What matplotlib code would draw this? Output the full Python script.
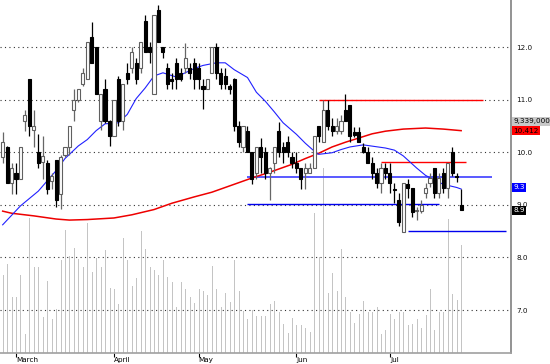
import matplotlib
matplotlib.use("Agg")
import matplotlib.pyplot as plt
from matplotlib.transforms import blended_transform_factory

# daily bars (index 0 = first bar at the left edge)
opens = [9.9, 10.1, 9.42, 9.6, 9.5, 10.6, 11.4, 10.42, 10.0, 9.82,
         9.8, 9.45, 9.85, 9.2, 9.95, 10.1, 10.8, 11.0, 11.3, 11.4,
         12.2, 12.0, 10.6, 11.2, 10.6, 10.3, 11.4, 10.6, 11.5, 11.6,
         11.7, 11.6, 12.5, 12.0, 11.1, 12.7, 12.0, 11.6, 11.4, 11.7,
         11.5, 11.6, 11.6, 11.7, 11.6, 11.25, 11.2, 11.5, 12.0, 11.5,
         11.45, 11.25, 11.4, 10.5, 10.1, 10.4, 10.0, 9.6, 10.1, 10.0,
         9.6, 9.8, 10.4, 10.1, 10.2, 9.9, 9.8, 9.7, 9.6, 9.6,
         9.7, 10.5, 10.2, 10.8, 10.5, 10.4, 10.4, 10.8, 10.9, 10.38,
         10.38, 10.1, 10.0, 9.8, 9.6, 9.42, 9.7, 9.6, 9.3, 9.1,
         8.48, 9.4, 9.32, 8.88, 8.88, 9.22, 9.41, 9.7, 9.22, 9.6,
         9.32, 10.0, 9.55, 9.0]
highs = [10.38, 10.12, 9.8, 9.8, 10.1, 10.8, 11.4, 10.8, 10.35, 10.3,
         9.85, 9.6, 9.85, 9.95, 10.1, 10.5, 11.2, 11.2, 11.6, 12.1,
         12.48, 12.0, 11.1, 11.4, 10.62, 11.0, 11.45, 11.3, 11.7, 12.0,
         11.8, 12.1, 12.6, 12.1, 12.6, 12.8, 12.0, 11.7, 11.5, 11.8,
         11.6, 12.08, 11.7, 11.8, 11.7, 11.4, 11.4, 12.0, 12.08, 11.6,
         11.6, 11.3, 11.42, 10.6, 10.5, 10.5, 10.0, 10.1, 10.27, 10.1,
         9.72, 10.1, 10.57, 10.2, 10.3, 10.0, 10.0, 9.7, 9.8, 9.8,
         10.3, 10.5, 11.0, 11.0, 10.65, 10.65, 10.7, 11.1, 10.9, 10.48,
         10.48, 10.17, 10.1, 9.9, 9.7, 9.8, 9.8, 9.8, 9.41, 9.22,
         9.41, 9.5, 9.32, 8.96, 9.09, 9.41, 9.6, 9.7, 9.6, 9.7,
         9.8, 10.1, 9.6, 9.3]
lows = [9.8, 9.42, 9.2, 9.2, 9.5, 10.4, 10.3, 10.1, 9.7, 9.5,
        9.2, 9.3, 8.95, 8.92, 9.9, 9.95, 10.6, 10.95, 11.25, 11.4,
        11.7, 11.1, 10.42, 10.55, 10.12, 10.3, 10.5, 10.42, 11.3, 11.5,
        11.3, 11.5, 11.9, 11.7, 11.1, 12.1, 11.8, 11.2, 11.2, 11.2,
        11.35, 11.5, 11.4, 11.2, 11.2, 10.82, 11.2, 11.5, 11.4, 11.2,
        11.2, 11.1, 10.4, 10.1, 10.0, 10.0, 9.4, 9.5, 9.6, 9.5,
        9.1, 9.6, 9.9, 9.8, 9.9, 9.7, 9.6, 9.3, 9.3, 9.6,
        9.7, 10.2, 10.2, 10.42, 10.3, 10.35, 10.35, 10.6, 10.2, 10.29,
        10.19, 9.98, 9.8, 9.5, 9.32, 9.22, 9.5, 9.22, 9.03, 8.6,
        8.48, 9.13, 8.77, 8.71, 8.84, 9.13, 9.34, 9.13, 9.13, 9.22,
        9.13, 9.55, 9.43, 8.9]
closes = [10.2, 9.42, 9.7, 9.5, 10.1, 10.7, 10.5, 10.5, 9.8, 9.92,
          9.3, 9.55, 9.1, 9.9, 10.1, 10.5, 11.0, 11.2, 11.5, 12.1,
          11.7, 11.1, 11.1, 10.6, 10.3, 11.0, 10.6, 11.3, 11.4, 11.9,
          11.4, 12.1, 11.9, 11.9, 12.6, 12.1, 11.9, 11.3, 11.35, 11.4,
          11.4, 11.8, 11.5, 11.4, 11.4, 11.2, 11.4, 12.0, 11.5, 11.3,
          11.3, 11.2, 10.5, 10.2, 10.5, 10.0, 9.5, 10.1, 9.9, 9.6,
          9.7, 10.1, 10.0, 10.0, 10.0, 9.8, 9.7, 9.5, 9.7, 9.7,
          10.3, 10.3, 10.8, 10.5, 10.4, 10.5, 10.6, 10.6, 10.3, 10.33,
          10.2, 10.0, 9.8, 9.6, 9.42, 9.7, 9.6, 9.42, 9.28, 8.67,
          9.41, 9.32, 8.86, 8.9, 9.0, 9.32, 9.51, 9.22, 9.51, 9.32,
          9.8, 9.6, 9.52, 8.9]
# volume in millions of shares
volume = [6.7, 7.7, 4.8, 4.8, 6.7, 1.6, 11.7, 7.4, 7.4, 3.1,
          6.2, 2.9, 3.8, 8.0, 10.6, 8.4, 9.1, 8.1, 7.4, 11.2,
          7.0, 8.2, 7.4, 8.9, 5.6, 5.5, 4.2, 9.9, 8.0, 5.8,
          6.5, 10.5, 9.0, 7.4, 7.2, 6.7, 8.0, 6.6, 6.1, 4.0,
          6.1, 5.5, 4.8, 4.3, 5.5, 5.4, 5.0, 7.5, 5.5, 4.0,
          5.2, 4.4, 8.0, 5.4, 3.6, 2.9, 3.7, 3.2, 3.2, 3.2,
          4.2, 4.5, 3.5, 2.5, 1.7, 3.0, 2.4, 2.4, 2.2, 1.8,
          12.1, 8.3, 16.0, 5.2, 6.9, 5.4, 9.0, 4.8, 3.5, 2.6,
          3.4, 4.5, 3.5, 3.5, 4.0, 1.6, 2.0, 3.4, 2.9, 3.5,
          3.5, 2.4, 2.5, 2.9, 2.2, 3.3, 5.5, 2.0, 3.5, 3.5,
          11.6, 5.1, 4.6, 9.3]

# moving averages, read at a few bars
blue_idx = [0, 4, 8, 12, 14, 17, 19, 21, 23, 26, 28, 30, 32, 34, 36, 39, 41,
            43, 45, 48, 50, 52, 55, 57, 59, 61, 63, 66, 68, 70, 71, 74, 76,
            78, 81, 86, 88, 90, 93, 95, 97, 99, 102, 103]
blue_val = [8.62, 8.98, 9.26, 9.65, 9.88, 10.12, 10.24, 10.41, 10.54, 10.56,
            10.72, 11.02, 11.22, 11.45, 11.51, 11.43, 11.51, 11.59, 11.65,
            11.70, 11.70, 11.57, 11.42, 11.14, 10.97, 10.77, 10.56, 10.34,
            10.17, 10.02, 9.96, 9.99, 10.05, 10.10, 10.14, 10.08, 10.04,
            9.93, 9.70, 9.56, 9.47, 9.39, 9.33, 9.30]
red_idx = [0, 2, 7, 12, 15, 19, 25, 29, 34, 38, 43, 47, 51, 56, 60, 65, 68,
           71, 74, 77, 80, 83, 86, 90, 95, 99, 103]
red_val = [8.88, 8.84, 8.79, 8.73, 8.71, 8.72, 8.75, 8.81, 8.91, 9.03, 9.15,
           9.24, 9.36, 9.51, 9.62, 9.77, 9.88, 9.98, 10.10, 10.19, 10.27,
           10.35, 10.40, 10.44, 10.46, 10.44, 10.41]

# drawn trend levels: (from bar, to bar, price)
red_levels = [(71, 108, 11.0), (85, 104, 9.81)]
blue_levels = [(55, 110, 9.52), (55, 98, 9.01), (91, 113, 8.51)]

month_idx = [3, 25, 44, 66, 87]
month_names = ["March", "April", "May", "Jun", "Jul"]
price_ticks = [7.0, 8.0, 9.0, 10.0, 11.0, 12.0]

plt.rcParams["font.family"] = "DejaVu Sans"
fig = plt.figure(figsize=(5.5, 3.64), dpi=100)
rect = [0, 11 / 364, 511 / 550, 353 / 364]
vax = fig.add_axes(rect)
ax = fig.add_axes(rect, sharex=vax)
ax.patch.set_visible(False)

x = list(range(len(closes)))
vax.vlines(x, 0, volume, color="#c4c4c4", linewidth=0.6, antialiased=False)
vax.set_ylim(0, 30.5)
vax.axis("off")

ax.set_xlim(-0.6, 114.2)
ax.set_ylim(6.183, 12.894)
ax.set_yticks(price_ticks)
ax.set_yticklabels(["%.1f" % t for t in price_ticks])
ax.yaxis.tick_right()
ax.yaxis.grid(True, linestyle=(0, (1, 3)), color="#333333", linewidth=0.8)
ax.set_axisbelow(True)
ax.tick_params(axis="y", length=0, pad=4, labelsize=5.2, colors="#111111")

ax.set_xticks(month_idx)
ax.set_xticklabels(month_names, ha="left")
ax.tick_params(axis="x", length=3, width=0.8, pad=0, labelsize=5.2)

for s in ["left", "top"]:
    ax.spines[s].set_visible(False)
ax.spines["right"].set_color("#808080")
ax.spines["right"].set_linewidth(1.2)
ax.spines["bottom"].set_color("#a0a0a0")
ax.spines["bottom"].set_linewidth(1.2)

# trend levels
for a, b, p in red_levels:
    ax.hlines(p, a, b, color="#ff0000", linewidth=1.0, zorder=2)
ax.hlines(blue_levels[0][2], blue_levels[0][0], blue_levels[0][1],
          color="#4c4cff", linewidth=1.3, zorder=2)
for a, b, p in blue_levels[1:]:
    ax.hlines(p, a, b, color="#0000ee", linewidth=1.0, zorder=2)

# moving averages
ax.plot(red_idx, red_val, color="#ee0000", linewidth=1.1, zorder=3)
ax.plot(blue_idx, blue_val, color="#2020ff", linewidth=0.8, zorder=3)

# candles
up = [i for i in x if closes[i] >= opens[i]]
dn = [i for i in x if closes[i] < opens[i]]
ax.vlines(up, [lows[i] for i in up], [highs[i] for i in up],
          color="#666666", linewidth=0.9, zorder=4)
ax.vlines(dn, [lows[i] for i in dn], [highs[i] for i in dn],
          color="black", linewidth=0.9, zorder=4)
ax.bar(up, [max(closes[i] - opens[i], 0.02) for i in up], width=0.7,
       bottom=[opens[i] for i in up], facecolor="white",
       edgecolor="#606060", linewidth=0.8, zorder=5)
ax.bar(dn, [max(opens[i] - closes[i], 0.02) for i in dn], width=0.7,
       bottom=[closes[i] for i in dn], facecolor="black",
       edgecolor="black", linewidth=0.8, zorder=5)

# value tags on the right scale
tr = blended_transform_factory(ax.transAxes, ax.transData)
tags = [(10.59, "9,339,000", "#c8c8c8", "black"),
        (10.41, "10.412", "#ff0000", "black"),
        (9.33, "9.3", "#0000ff", "white"),
        (8.90, "8.9", "black", "white")]
for p, s, bg, fg in tags:
    ax.text(1.004, p, s, transform=tr, ha="left", va="center", fontsize=5.2,
            color=fg, clip_on=False, zorder=10,
            bbox=dict(boxstyle="square,pad=0.2", fc=bg, ec="none"))

fig.savefig("out.png", dpi=100)
